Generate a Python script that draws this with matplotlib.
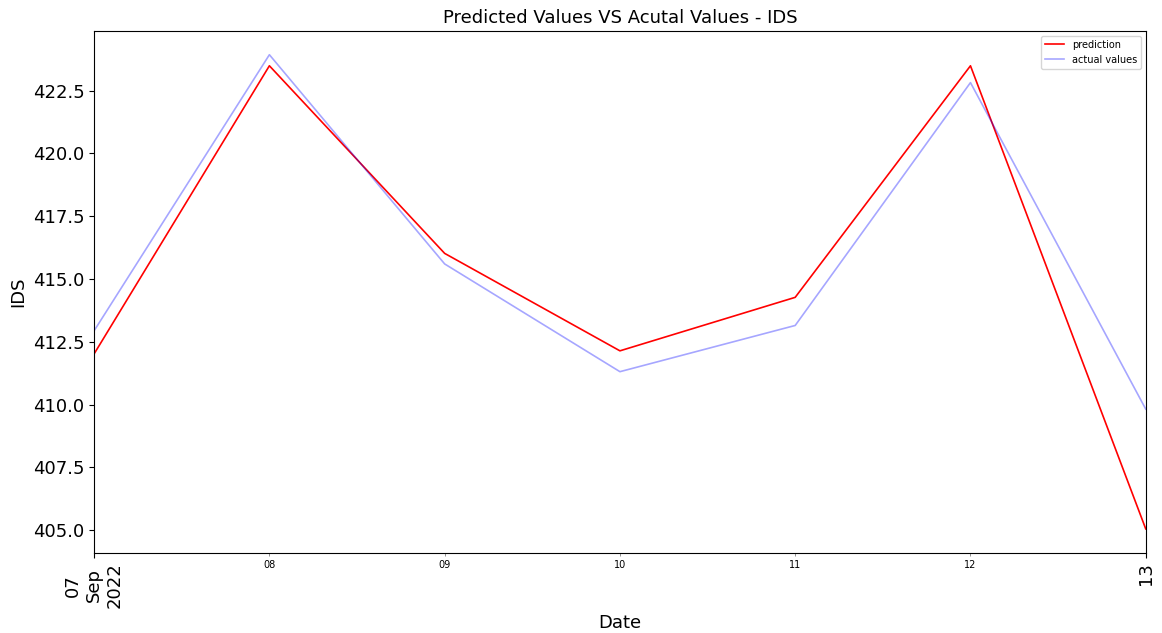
import matplotlib
matplotlib.use("Agg")
import matplotlib.pyplot as plt
import numpy as np
import pandas as pd

# Daily values
dates = pd.date_range("2022-09-07", "2022-09-13", freq="D")
prediction = [412.02, 423.49, 416.02, 412.14, 414.27, 423.49, 405.05]
actual_values = [412.94, 423.93, 415.60, 411.31, 413.15, 422.82, 409.82]

fig, ax = plt.subplots(figsize=(11.62, 6.33), dpi=100)
fig.subplots_adjust(left=0.081, right=0.986, top=0.951, bottom=0.127)

x = np.arange(len(dates))
ax.plot(x, prediction, color="red", linewidth=1.2, label="prediction")
ax.plot(x, actual_values, color="blue", alpha=0.35, linewidth=1.2,
        label="actual values")

ax.set_xlim(x[0], x[-1])

# Major ticks at the ends (big, rotated), minor ticks for the days between
ax.set_xticks([x[0], x[-1]])
ax.set_xticklabels([dates[0].strftime("%d\n%b\n%Y"), dates[-1].strftime("%d")],
                   rotation=90, fontsize=13)
ax.set_xticks(x[1:-1], minor=True)
ax.set_xticklabels([d.strftime("%d") for d in dates[1:-1]], minor=True,
                   fontsize=7)
ax.tick_params(axis="x", which="minor", length=2, color="grey")

ax.tick_params(axis="y", labelsize=13)
ax.set_xlabel("Date", fontsize=13)
ax.set_ylabel("IDS", fontsize=13)
ax.set_title("Predicted Values VS Acutal Values - IDS", fontsize=13)
ax.legend(loc="upper right", fontsize=7)

fig.savefig("out.png", dpi=100)
